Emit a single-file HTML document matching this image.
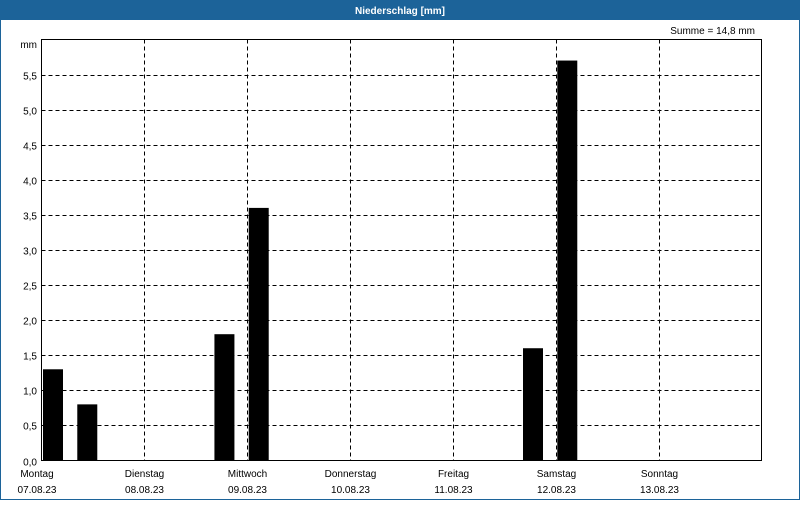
<!DOCTYPE html>
<html><head><meta charset="utf-8"><style>
body{margin:0;width:800px;height:500px;overflow:hidden;background:#fff;font-family:"Liberation Sans",sans-serif}
</style></head><body>
<svg width="800" height="500" id="c" font-family="Liberation Sans, sans-serif" font-size="10">
<rect x="0.5" y="0.5" width="799" height="499" fill="#fff" stroke="#1c6399"/>
<rect x="0" y="0" width="800" height="20" fill="#1c6399"/>
<text x="400" y="14" text-anchor="middle" fill="#fff" font-weight="bold">Niederschlag [mm]</text>
<text x="755" y="34" text-anchor="end" fill="#000">Summe = 14,8 mm</text>
<text x="37" y="48" text-anchor="end" fill="#000">mm</text>
<g id="grid"></g><g id="bars"></g><g id="labels"></g>
<rect x="41.5" y="39.5" width="720" height="421" fill="none" stroke="#000"/>
</svg>
<script>
const days=["Montag","Dienstag","Mittwoch","Donnerstag","Freitag","Samstag","Sonntag"];
const dates=["07.08.23","08.08.23","09.08.23","10.08.23","11.08.23","12.08.23","13.08.23"];
const yTicks=[0,0.5,1,1.5,2,2.5,3,3.5,4,4.5,5,5.5];
const values=[1.3,0.8,0,0,0,1.8,3.6,0,0,0,0,0,0,0,1.6,5.7,0,0,0,0,0];
const X0=41.5,X1=761.5,Y0=460.5,Y1=39.5,YMAX=6,BINS=21;
const NS="http://www.w3.org/2000/svg";
const x=i=>X0+(X1-X0)*i/BINS;
const y=v=>Y0-(Y0-Y1)*v/YMAX;
function mk(t,a,p){const e=document.createElementNS(NS,t);for(const k in a)e.setAttribute(k,a[k]);p.appendChild(e);return e;}
const g=document.getElementById('grid'),b=document.getElementById('bars'),l=document.getElementById('labels');
yTicks.forEach(v=>{
 const yy=Math.round(y(v))+0.5;
 if(v>0){const ln=mk('line',{x1:X0,x2:X1,y1:yy,y2:yy,stroke:'#000','stroke-dasharray':'4,3'},g);
 
 }
 const t=mk('text',{x:37,y:yy+4,'text-anchor':'end'},l);t.textContent=v.toFixed(1).replace('.',',');
 
 
});
days.forEach((d,i)=>{
 const xx=Math.round(x(i*3))+0.5;
 if(i>0){const ln=mk('line',{x1:xx,x2:xx,y1:Y1,y2:Y0,stroke:'#000','stroke-dasharray':'4,3'},g);
 
 }
 const cx=i==0?37:xx;
 const t=mk('text',{x:cx,y:477,'text-anchor':'middle'},l);t.textContent=d;
 
 
 const t2=mk('text',{x:cx,y:493,'text-anchor':'middle'},l);t2.textContent=dates[i];
 
 
});
values.forEach((v,i)=>{
 if(v<=0)return;
 const r=mk('rect',{x:x(i)+1.5,y:y(v),width:20,height:Y0-y(v),fill:'#000'},b);
 
 
});
</script>
</body></html>
